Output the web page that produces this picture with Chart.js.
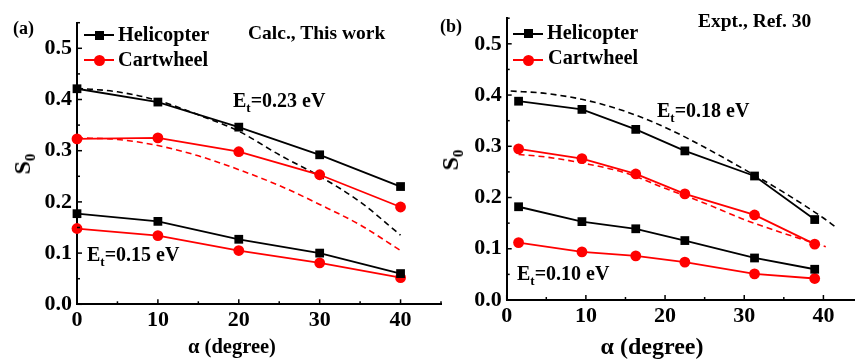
<!DOCTYPE html>
<html>
<head>
<meta charset="utf-8">
<script src="https://cdn.jsdelivr.net/npm/chart.js@4/dist/chart.umd.min.js"></script>
<style>
  body { margin: 0; background: #fff; width: 855px; height: 359px; overflow: hidden; position: relative; }
  canvas { position: absolute; top: 0; }
  .t { position: absolute; font-family: "Liberation Serif", "Times New Roman", serif; font-weight: bold; line-height: 1; white-space: nowrap; color: #000; }
  .sub { font-size: 13px; position: relative; top: 5px; }
  .ytitle { position: absolute; font-family: "Liberation Serif", serif; font-weight: bold; font-size: 24px; line-height: 1; white-space: nowrap; transform: translate(-50%, -50%) rotate(-90deg); }
  .ytitle span { font-size: 15px; position: relative; top: 5px; }
  .lline { position: absolute; height: 2px; }
  .lmark { position: absolute; }
</style>
</head>
<body>
<canvas id="chartA" width="460" height="359" style="left:0px"></canvas>
<canvas id="chartB" width="440" height="359" style="left:430px"></canvas>

<div class="t" style="left:13px;top:18.5px;font-size:18px">(a)</div>
<div class="t" style="left:440px;top:17px;font-size:18px">(b)</div>
<div class="t" style="left:248px;top:22.7px;font-size:19.5px">Calc., This work</div>
<div class="t" style="left:698px;top:11.3px;font-size:19.5px">Expt., Ref. 30</div>

<!-- legend (a) -->
<div class="lline" style="left:84px;top:34px;width:30px;background:#000"></div>
<div class="lmark" style="left:95px;top:30.5px;width:9px;height:9px;background:#000"></div>
<div class="t" style="left:118px;top:23.5px;font-size:20.3px">Helicopter</div>
<div class="lline" style="left:84px;top:59px;width:30px;background:#f00"></div>
<div class="lmark" style="left:93.5px;top:54.5px;width:11px;height:11px;border-radius:50%;background:#f00"></div>
<div class="t" style="left:118px;top:48.8px;font-size:20.3px">Cartwheel</div>

<!-- legend (b) -->
<div class="lline" style="left:513px;top:32.5px;width:30px;background:#000"></div>
<div class="lmark" style="left:523.5px;top:29px;width:9px;height:9px;background:#000"></div>
<div class="t" style="left:547px;top:22.1px;font-size:20.3px">Helicopter</div>
<div class="lline" style="left:513px;top:59px;width:30px;background:#f00"></div>
<div class="lmark" style="left:522.5px;top:54.5px;width:11px;height:11px;border-radius:50%;background:#f00"></div>
<div class="t" style="left:548px;top:47.1px;font-size:20.3px">Cartwheel</div>

<div class="t" style="left:233px;top:90px;font-size:20px">E<span class="sub">t</span>=0.23 eV</div>
<div class="t" style="left:87px;top:244.3px;font-size:20px">E<span class="sub">t</span>=0.15 eV</div>
<div class="t" style="left:657px;top:100px;font-size:20px">E<span class="sub">t</span>=0.18 eV</div>
<div class="t" style="left:517px;top:262.5px;font-size:20px">E<span class="sub">t</span>=0.10 eV</div>

<div class="ytitle" style="left:22px;top:164px">S<span>0</span></div>
<div class="ytitle" style="left:450px;top:160px">S<span>0</span></div>

<div class="t" style="left:232px;top:336.3px;font-size:20.5px;transform:translateX(-50%)">α (degree)</div>
<div class="t" style="left:652px;top:334px;font-size:24px;transform:translateX(-50%)">α (degree)</div>

<script>
// panel (a): calculation
const alphaA = [0, 10, 20, 30, 40];
const heliHighA = [0.421, 0.395, 0.346, 0.292, 0.230];
const cartHighA = [0.323, 0.325, 0.298, 0.253, 0.190];
const heliLowA = [0.177, 0.162, 0.127, 0.100, 0.060];
const cartLowA = [0.148, 0.134, 0.105, 0.081, 0.052];
// dashed curves in (a)
const dashAlphaA = [0, 5, 10, 15, 20, 25, 30, 35, 40];
const dashBlackA = [0.422, 0.415, 0.398, 0.370, 0.338, 0.292, 0.250, 0.200, 0.135];
const dashRedA = [0.325, 0.322, 0.310, 0.290, 0.263, 0.232, 0.195, 0.155, 0.105];

// panel (b): experiment
const alphaB = [1.5, 9.5, 16.3, 22.5, 31.3, 38.9];
const heliHighB = [0.388, 0.372, 0.333, 0.291, 0.242, 0.157];
const cartHighB = [0.295, 0.276, 0.246, 0.207, 0.166, 0.109];
const heliLowB = [0.182, 0.153, 0.139, 0.116, 0.082, 0.060];
const cartLowB = [0.112, 0.094, 0.086, 0.074, 0.051, 0.042];
// dashed curves in (b)
const dashBlackAlphaB = [0.5, 5, 10, 15, 20, 25, 30, 35, 40, 41.5];
const dashBlackB = [0.408, 0.403, 0.390, 0.368, 0.337, 0.298, 0.255, 0.210, 0.160, 0.143];
const dashRedAlphaB = [1.5, 5, 10, 15, 20, 25, 30, 35, 40.3];
const dashRedB = [0.284, 0.279, 0.266, 0.248, 0.218, 0.189, 0.157, 0.130, 0.104];

// axis ranges / tick steps
const xMax = 45, xStep = 5, xLabelEvery = 10;
const yMax = 0.55, yStep = 0.05;

function pts(xs, ys) {
    return xs.map((x, i) => ({ x: x, y: ys[i] }));
}

function solid(xs, ys, color, style) {
    return {
        data: pts(xs, ys),
        borderColor: color,
        backgroundColor: color,
        borderWidth: 1.8,
        pointStyle: style,
        pointRadius: style === 'rect' ? 6.2 : 5.4,
        pointBorderWidth: 0,
        tension: 0,
        clip: false
    };
}

function dashed(xs, ys, color) {
    return {
        data: pts(xs, ys),
        borderColor: color,
        borderWidth: 1.6,
        borderDash: [6, 4],
        pointRadius: 0,
        cubicInterpolationMode: 'monotone',
        clip: false
    };
}

// inward tick marks, drawn from the library's own scale ticks
const innerTicks = {
    id: 'innerTicks',
    afterDraw(chart) {
        const ctx = chart.ctx;
        const xs = chart.scales.x, ys = chart.scales.y;
        const area = chart.chartArea;
        ctx.save();
        ctx.strokeStyle = '#000';
        ctx.lineWidth = 1.5;
        xs.ticks.forEach(t => {
            const px = xs.getPixelForValue(t.value);
            const len = Math.abs(t.value % xLabelEvery) < 1e-6 ? 5 : 3;
            ctx.beginPath();
            ctx.moveTo(px, area.bottom);
            ctx.lineTo(px, area.bottom - len);
            ctx.stroke();
        });
        ys.ticks.forEach(t => {
            const py = ys.getPixelForValue(t.value);
            const major = Math.abs(t.value * 10 - Math.round(t.value * 10)) < 1e-6;
            ctx.beginPath();
            ctx.moveTo(area.left, py);
            ctx.lineTo(area.left + (major ? 5 : 3), py);
            ctx.stroke();
        });
        ctx.restore();
    }
};

function makeChart(id, datasets, opts) {
    const tickFont = { family: 'Liberation Serif', weight: 'bold', size: 22 };
    return new Chart(document.getElementById(id).getContext('2d'), {
        type: 'line',
        data: { datasets: datasets },
        options: {
            responsive: false,
            animation: false,
            events: [],
            layout: { padding: { left: 0, top: opts.top, right: opts.right, bottom: 0 } },
            plugins: { legend: { display: false }, tooltip: { enabled: false } },
            scales: {
                x: {
                    type: 'linear',
                    min: 0,
                    max: xMax,
                    grid: { display: false, drawTicks: false },
                    border: { display: true, color: '#000', width: 2 },
                    ticks: {
                        stepSize: xStep,
                        autoSkip: false,
                        maxRotation: 0,
                        padding: opts.xPad,
                        color: '#000',
                        font: tickFont,
                        callback: v => (Math.abs(v % xLabelEvery) < 1e-6 ? String(v) : '')
                    },
                    afterFit: s => { s.height = opts.xHeight; }
                },
                y: {
                    min: 0,
                    max: yMax,
                    grid: { display: false, drawTicks: false },
                    border: { display: true, color: '#000', width: 2 },
                    ticks: {
                        stepSize: yStep,
                        autoSkip: false,
                        padding: opts.yPad,
                        color: '#000',
                        font: tickFont,
                        callback: v => (Math.abs(v * 10 - Math.round(v * 10)) < 1e-6 ? v.toFixed(1) : '')
                    },
                    afterFit: s => { s.width = opts.yWidth; }
                }
            }
        },
        plugins: [innerTicks]
    });
}

makeChart('chartA', [
    solid(alphaA, heliHighA, '#000', 'rect'),
    solid(alphaA, cartHighA, '#f00', 'circle'),
    solid(alphaA, heliLowA, '#000', 'rect'),
    solid(alphaA, cartLowA, '#f00', 'circle'),
    dashed(dashAlphaA, dashBlackA, '#000'),
    dashed(dashAlphaA, dashRedA, '#f00')
], { top: 22.7, right: 19, xHeight: 54.7, yWidth: 77, xPad: 3, yPad: 5 });

makeChart('chartB', [
    solid(alphaB, heliHighB, '#000', 'rect'),
    solid(alphaB, cartHighB, '#f00', 'circle'),
    solid(alphaB, heliLowB, '#000', 'rect'),
    solid(alphaB, cartLowB, '#f00', 'circle'),
    dashed(dashBlackAlphaB, dashBlackB, '#000'),
    dashed(dashRedAlphaB, dashRedB, '#f00')
], { top: 16.8, right: 7, xHeight: 59, yWidth: 76.7, xPad: 3, yPad: 5 });
</script>
</body>
</html>
